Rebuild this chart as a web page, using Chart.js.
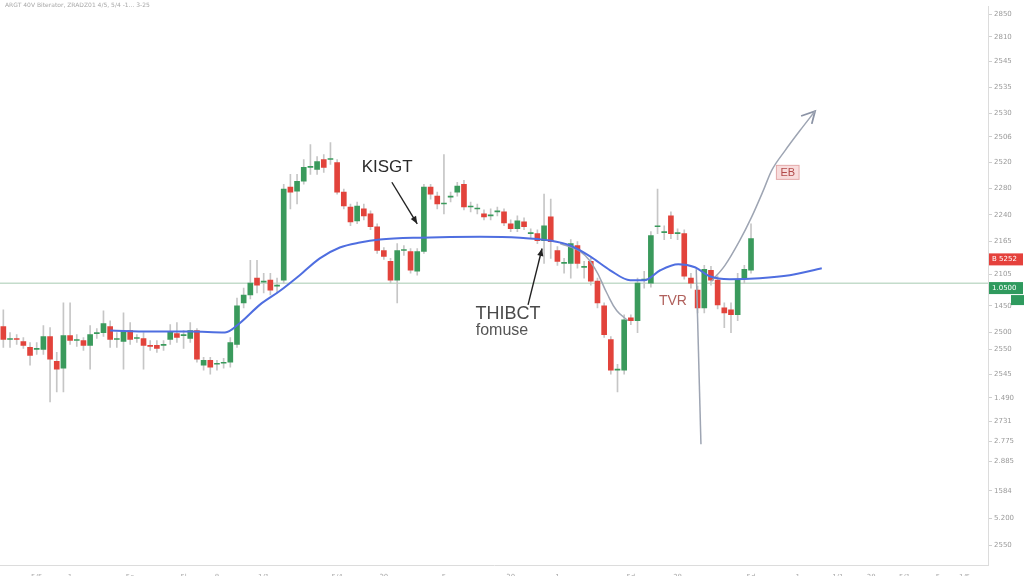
<!DOCTYPE html>
<html><head><meta charset="utf-8">
<script src="https://cdn.jsdelivr.net/npm/chart.js@4.4.0/dist/chart.umd.min.js"></script>
<style>html,body{margin:0;padding:0;background:#fff;}#wrap{width:1024px;height:576px;position:relative;}</style>
</head><body><div id="wrap"><canvas id="c"></canvas></div>
<script>
const N_SLOTS = 148;
const opens = [276,263,264,261,255,253,253,266,241,234, 267,262,262,257,269,270,276,263,261,272, 264,264,257,257,257,263,269,267,264,272, 237,242,238,239,240,258,300,308,325,321, 323,317,323,417,413,423,437,435,445,445, 442,412,397,383,395,390,377,353,342,323, 353,352,332,352,417,408,400,407,412,420, 397,395,390,388,392,392,380,375,382,370, 370,363,387,353,340,340,358,336,342,322, 297,263,232,232,285,282,323,320,377,371, 388,370,370,325,313,295,333,323,295,293, 288,325,333];
const closes = [263,264,263,257,247,254,266,243,233,267, 262,263,257,268,270,279,263,264,271,263, 265,257,256,254,258,271,265,268,272,243, 242,235,239,240,260,297,308,320,318,322, 313,318,415,412,423,437,438,443,437,446, 412,398,382,398,388,377,353,347,323,353, 354,333,352,417,410,400,401,408,418,397, 398,396,387,389,393,381,375,383,377,371, 363,378,362,342,341,360,340,337,322,300, 268,232,233,283,282,320,324,368,378,372, 370,371,327,320,295,334,323,298,290,288, 323,334,365];
const highs = [293,270,268,265,260,260,277,275,250,300, 300,268,265,277,274,292,282,270,290,280, 268,270,262,262,262,278,280,272,280,274, 245,245,242,244,265,305,315,343,343,330, 330,325,420,430,430,445,460,448,450,462, 445,415,400,402,400,393,380,356,345,360, 358,355,355,420,420,412,450,412,422,424, 402,400,394,395,397,395,384,388,386,375, 374,410,405,357,345,364,362,342,345,325, 300,266,238,288,288,325,332,372,415,378, 392,375,374,330,317,338,337,327,300,300, 330,338,380];
const lows = [255,255,258,254,237,248,248,200,210,210, 258,256,252,233,264,266,255,255,233,258, 260,233,252,250,252,258,260,254,260,240, 232,228,232,234,235,255,295,304,310,310, 308,310,320,395,400,420,430,430,432,440, 410,395,378,380,384,374,350,344,320,300, 348,330,328,350,405,395,390,402,408,394, 392,390,384,384,388,378,372,372,374,366, 360,340,345,338,330,325,335,325,318,295, 265,228,210,228,278,270,315,316,370,364, 365,364,324,315,290,290,318,294,275,270, 282,320,330];

const maIdx = [16,22,28,33.2,35.5,38.4,41.4,44.4,47.4,50.4,53.4,56.4,62.4,71.4,77.4,81.9,84.9,87.9,90.9,93.9,96.1,98.4,101.1,103.6,105.8,108.8,113.3,117.8,122.6];
const maVal = [272,271,271,270,280,298,312,328,345,356,361,364,366,367,366,363,358,347,333,323,323,333,339,336,327,324,325,328,335];

const dropIdx = [83.4,86.4,88.6,90.4,91.9,93.6];
const dropVal = [360,352,335,310,292,282];
const spikeIdx = [103.8,104.5];
const spikeVal = [334,157];
const riseIdx = [106.1,108.1,110.3,112.1,113.8,115.1,117.1,119.3,121.6];
const riseVal = [322,338,363,387,413,434,454,474,494];
const riseHeadIdx = [119.5,121.6,121.1];
const riseHeadVal = [489,494,481];

const lastPrice = 320;
const yTickValues = [592,569,544,518,492,468,442,416,389,362,329,297,270,253,228,204,180,160,140,110,82,55];
const yTickLabels = ["2850","2810","2545","2535","2530","2506","2520","2280","2240","2165","2105","1450","2500","2550","2545","1.490","2731","2.775","2.885","1584","5.200","2550"];
const xLabelIdx = [5,10,19,27,32,39,50,57,66,76,83,94,101,112,119,125,130,135,140,144];
const xLabelText = ["5/5","1","5a","5l","8","1/1","5/4","30","5","30","1","5d","28","5d","1","1/1","28","5/1","5","1/5"];

const notes = [
  {text:"KISGT", idx:57.5, v:438.5, font:"17px 'Liberation Sans'", color:"#2b2b2b"},
  {text:"THIBCT", idx:75.6, v:290, font:"18px 'Liberation Sans'", color:"#4a4a4a"},
  {text:"fomuse", idx:74.7, v:273, font:"16px 'Liberation Sans'", color:"#555"},
  {text:"TVR", idx:100.3, v:303, font:"14px 'Liberation Sans'", color:"#b0605c"},
  {text:"EB", idx:117.5, v:432, font:"11px 'Liberation Sans'", color:"#b24a4a", box:true}
];
const arrows = [
  {from:[58.2,422], to:[62.0,380]},
  {from:[78.6,298], to:[80.7,355]}
];
const badges = [
  {v:344, text:"B 5252", bg:"#e5413c"},
  {v:315, text:"1.0500", bg:"#2f9a5e"}
];

const labels = Array.from({length:N_SLOTS}, () => "");
xLabelIdx.forEach((k, j) => { labels[k] = xLabelText[j]; });

const GREEN = "#3a9a5c", RED = "#e2433b";
const bodyColors = opens.map((o, i) => closes[i] >= o ? GREEN : RED);
const pts = (xs, ys) => xs.map((x, i) => ({x, y: ys[i]}));

const notesPlugin = {
  id: "notes",
  beforeDatasetsDraw(chart) {
    const ctx = chart.ctx, a = chart.chartArea, ys = chart.scales.y;
    const y = ys.getPixelForValue(lastPrice);
    ctx.save();
    ctx.strokeStyle = "#c4dccb"; ctx.lineWidth = 1.5;
    ctx.beginPath(); ctx.moveTo(a.left, y); ctx.lineTo(a.right, y); ctx.stroke();
    ctx.restore();
  },
  afterDraw(chart) {
    const ctx = chart.ctx, a = chart.chartArea, xs = chart.scales.x2, ys = chart.scales.y;
    const px = i => xs.getPixelForValue(i), py = v => ys.getPixelForValue(v);
    ctx.save();
    ctx.font = "6px 'DejaVu Sans'"; ctx.fillStyle = "#a8a8a8"; ctx.textBaseline = "middle"; ctx.textAlign = "left";
    ctx.fillText("ARGT 40V Biterator, ZRADZ01 4/5, 5/4 -1... 3-25", 5, 5);
    arrows.forEach(ar => {
      const x1 = px(ar.from[0]), y1 = py(ar.from[1]), x2 = px(ar.to[0]), y2 = py(ar.to[1]);
      ctx.strokeStyle = "#222"; ctx.fillStyle = "#222"; ctx.lineWidth = 1.4;
      ctx.beginPath(); ctx.moveTo(x1, y1); ctx.lineTo(x2, y2); ctx.stroke();
      const ang = Math.atan2(y2 - y1, x2 - x1), L = 8;
      ctx.beginPath(); ctx.moveTo(x2, y2);
      ctx.lineTo(x2 - L * Math.cos(ang - 0.4), y2 - L * Math.sin(ang - 0.4));
      ctx.lineTo(x2 - L * Math.cos(ang + 0.4), y2 - L * Math.sin(ang + 0.4));
      ctx.closePath(); ctx.fill();
    });
    notes.forEach(n => {
      const x = px(n.idx), y = py(n.v);
      ctx.font = n.font; ctx.textAlign = "center"; ctx.textBaseline = "middle";
      if (n.box) {
        const w = ctx.measureText(n.text).width + 8, h = 14;
        ctx.fillStyle = "#f8dcdc"; ctx.strokeStyle = "#e4a9a9"; ctx.lineWidth = 1;
        ctx.fillRect(x - w / 2, y - h / 2, w, h); ctx.strokeRect(x - w / 2, y - h / 2, w, h);
      }
      ctx.fillStyle = n.color; ctx.fillText(n.text, x, y + 1);
    });
    badges.forEach(b => {
      const y = py(b.v);
      ctx.fillStyle = b.bg; ctx.fillRect(a.right + 1, y - 6, 34, 12);
      ctx.fillStyle = "#fff"; ctx.font = "7px 'DejaVu Sans'"; ctx.textAlign = "left"; ctx.textBaseline = "middle";
      ctx.fillText(b.text, a.right + 4, y);
    });
    const gy = py(badges[1].v) + 12;
    ctx.fillStyle = "#2f9a5e"; ctx.fillRect(a.right + 23, gy - 5, 13, 10);
    ctx.restore();
  }
};

new Chart(document.getElementById("c"), {
  type: "bar",
  data: {
    labels,
    datasets: [
      {type:"line", xAxisID:"x2", data: pts(maIdx, maVal), borderColor:"#4f6ee0", borderWidth:2, pointRadius:0, tension:0.4, cubicInterpolationMode:"monotone", order:0},
      {type:"line", xAxisID:"x2", data: pts(dropIdx, dropVal), borderColor:"#9ea5b3", borderWidth:1.5, pointRadius:0, tension:0.4, order:0},
      {type:"line", xAxisID:"x2", data: pts(spikeIdx, spikeVal), borderColor:"#9ea5b3", borderWidth:1.5, pointRadius:0, order:0},
      {type:"line", xAxisID:"x2", data: pts(riseIdx, riseVal), borderColor:"#9ea5b3", borderWidth:1.5, pointRadius:0, tension:0.35, cubicInterpolationMode:"monotone", order:0},
      {type:"line", xAxisID:"x2", data: pts(riseHeadIdx, riseHeadVal), borderColor:"#8c94a6", borderWidth:1.8, pointRadius:0, order:0},
      {label:"body", data: opens.map((o, i) => [o, closes[i]]), backgroundColor: bodyColors, barThickness:5, grouped:false, order:1},
      {label:"wick", data: lows.map((l, i) => [l, highs[i]]), backgroundColor:"#c6c6c6", barThickness:1, grouped:false, order:2}
    ]
  },
  options: {
    responsive:true, maintainAspectRatio:false, animation:false,
    layout:{padding:0},
    plugins:{legend:{display:false}, tooltip:{enabled:false}},
    scales:{
      x:{
        grid:{display:false}, border:{color:"#dcdcdc"},
        ticks:{autoSkip:false, maxRotation:0, padding:0, font:{size:7, family:"DejaVu Sans"}, color:"#a8a8a8", callback:(v,i)=>labels[i]},
        afterFit(s){ s.height = 11; }
      },
      x2:{type:"linear", display:false, offset:false, min:-0.5, max:N_SLOTS-0.5},
      y:{
        position:"right", min:35, max:600,
        grid:{drawOnChartArea:false, drawTicks:true, tickLength:4, color:"#cfcfcf"},
        border:{color:"#dcdcdc"},
        afterBuildTicks(s){ s.ticks = yTickValues.map(v => ({value:v})); },
        ticks:{font:{size:7, family:"DejaVu Sans"}, color:"#9a9a9a", padding:2, callback:(v,i)=>yTickLabels[i]},
        afterFit(s){ s.width = 36; }
      }
    }
  },
  plugins:[notesPlugin]
});
</script></body></html>
